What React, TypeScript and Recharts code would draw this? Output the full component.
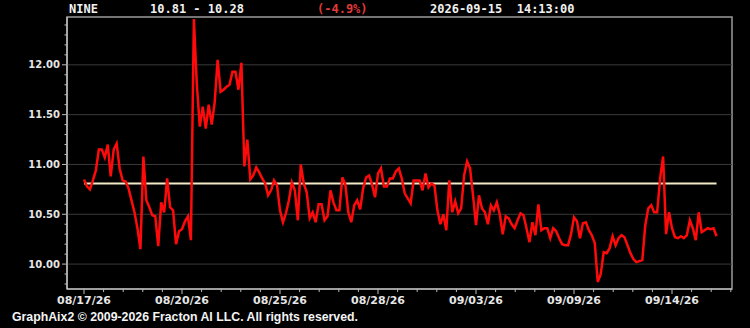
import { LineChart, Line, XAxis, YAxis, ReferenceLine, ReferenceArea } from 'recharts'

const symbol = 'NINE'
const rangeLabel = '10.81 - 10.28'
const changeLabel = '(-4.9%)'
const stamp = '2026-09-15  14:13:00'
const footer = 'GraphAix2 © 2009-2026 Fracton AI LLC. All rights reserved.'

const startPrice = 10.81

// one sample every ~3 px of the reference trace
const prices = [
  10.85, 10.78, 10.75, 10.84, 10.94, 11.15, 11.15, 11.07, 11.2, 10.88,
  11.15, 11.21, 10.96, 10.84, 10.83, 10.76, 10.64, 10.52, 10.36, 10.15,
  11.08, 10.64, 10.57, 10.49, 10.48, 10.18, 10.62, 10.52, 10.86, 10.57,
  10.54, 10.2, 10.33, 10.35, 10.43, 10.48, 10.24, 12.46, 11.8, 11.38,
  11.58, 11.36, 11.6, 11.4, 11.62, 12.05, 11.73, 11.75, 11.78, 11.8,
  11.93, 11.93, 11.75, 12.02, 10.98, 11.25, 10.85, 10.89, 10.97, 10.92,
  10.86, 10.81, 10.69, 10.74, 10.84, 10.79, 10.54, 10.42, 10.51, 10.64,
  10.82, 10.74, 10.44, 11.0, 10.81, 10.72, 10.46, 10.52, 10.42, 10.6,
  10.6, 10.44, 10.48, 10.74, 10.62, 10.54, 10.54, 10.87, 10.8, 10.52,
  10.42, 10.59, 10.64, 10.55, 10.76, 10.87, 10.89, 10.8, 10.67, 10.91,
  10.96, 10.78, 10.78, 10.86, 10.86, 10.93, 10.96, 10.86, 10.71, 10.66,
  10.61, 10.84, 10.84, 10.84, 10.74, 10.91, 10.77, 10.81, 10.79, 10.54,
  10.4, 10.5, 10.34, 10.84, 10.52, 10.63, 10.51, 10.56, 10.89, 11.03,
  10.96, 10.69, 10.39, 10.69, 10.56, 10.52, 10.4, 10.59, 10.54, 10.62,
  10.5, 10.3, 10.48, 10.46, 10.4, 10.36, 10.44, 10.51, 10.49, 10.36,
  10.22, 10.42, 10.29, 10.6, 10.34, 10.36, 10.36, 10.26, 10.36, 10.33,
  10.26, 10.2, 10.19, 10.19, 10.3, 10.47, 10.43, 10.26, 10.41, 10.42,
  10.34, 10.29, 10.21, 9.82, 9.9, 10.12, 10.11, 10.16, 10.28, 10.19,
  10.26, 10.29, 10.27, 10.19, 10.11, 10.05, 10.02, 10.03, 10.04, 10.39,
  10.56, 10.59, 10.52, 10.52, 10.86, 11.08, 10.3, 10.52, 10.36, 10.27,
  10.26, 10.28, 10.26, 10.29, 10.44, 10.36, 10.24, 10.52, 10.32, 10.34,
  10.36, 10.35, 10.36, 10.28,
]

const dateTickIdx = [0, 33, 66, 99, 132, 165, 198]
const dateTickLabels = ['08/17/26', '08/20/26', '08/25/26', '08/28/26', '09/03/26', '09/09/26', '09/14/26']
const priceGrid = [10, 10.5, 11, 11.5, 12]

const data = prices.map((price, i) => ({ i, price }))

const X_DOMAIN: [number, number] = [-5.72, 218.2]
const Y_DOMAIN: [number, number] = [9.75, 12.48]

// minor ticks: 5 per labelled interval on x, every 0.10 on y
const xTicks = Array.from({ length: 34 }, (_, k) => +(k * 6.6).toFixed(2))
const yTicks = Array.from({ length: 27 }, (_, k) => +(9.8 + k * 0.1).toFixed(1))

const axisFont = '"DejaVu Sans", sans-serif'

function DateTick({ x, y, payload }: any) {
  const k = dateTickIdx.indexOf(payload.value)
  const major = k >= 0
  return (
    <g>
      <line x1={x} x2={x} y1={y} y2={y + (major ? 5 : 3)} stroke="#bbb" />
      {major && (
        <text x={x} y={y + 15} textAnchor="middle" fill="#e6e6e6" fontSize={11} fontWeight="bold" fontFamily={axisFont}>
          {dateTickLabels[k]}
        </text>
      )}
    </g>
  )
}

function PriceTick({ x, y, payload }: any) {
  const major = Math.round(payload.value * 10) % 5 === 0
  return (
    <g>
      <line x1={x - (major ? 5 : 2.5)} x2={x} y1={y} y2={y} stroke="#bbb" />
      {major && (
        <text x={x - 7} y={y + 3.5} textAnchor="end" fill="#e6e6e6" fontSize={10} fontWeight="bold" fontFamily={axisFont}>
          {payload.value.toFixed(2)}
        </text>
      )}
    </g>
  )
}

const headStyle = {
  position: 'absolute' as const,
  top: 2,
  fontFamily: '"DejaVu Sans Mono", monospace',
  fontWeight: 'bold' as const,
  fontSize: 12,
  lineHeight: '14px',
  whiteSpace: 'pre' as const,
  color: '#f0f0f0',
}

export default function App() {
  return (
    <div style={{ position: 'absolute', left: 0, top: 0, width: 750, height: 328, background: '#000', overflow: 'hidden' }}>
      <LineChart width={750} height={328} data={data} margin={{ top: 17, right: 18, left: 0, bottom: 0 }}>
        <XAxis
          dataKey="i"
          type="number"
          domain={X_DOMAIN}
          allowDataOverflow
          ticks={xTicks}
          interval={0}
          tick={<DateTick />}
          tickLine={false}
          tickSize={0}
          tickMargin={0}
          height={39}
          axisLine={{ stroke: '#c8c8c8' }}
        />
        <YAxis
          type="number"
          domain={Y_DOMAIN}
          allowDataOverflow
          ticks={yTicks}
          interval={0}
          tick={<PriceTick />}
          tickLine={false}
          tickSize={0}
          tickMargin={0}
          width={67}
          axisLine={{ stroke: '#d8d8d8' }}
        />
        <ReferenceArea
          x1={X_DOMAIN[0]}
          x2={X_DOMAIN[1]}
          y1={Y_DOMAIN[0]}
          y2={Y_DOMAIN[1]}
          fill="none"
          stroke="#9a9a9a"
          strokeWidth={1.5}
        />
        {priceGrid.map(v => (
          <ReferenceLine key={v} y={v} stroke="#3a3a3a" strokeWidth={1} />
        ))}
        <ReferenceLine
          segment={[{ x: 0, y: startPrice }, { x: prices.length - 1, y: startPrice }]}
          stroke="#f2e9c6"
          strokeWidth={2}
        />
        <Line
          type="linear"
          dataKey="price"
          stroke="#ff0a0a"
          strokeWidth={2.5}
          dot={false}
          activeDot={false}
          isAnimationActive={false}
        />
      </LineChart>

      <div style={{ ...headStyle, left: 69 }}>{symbol}</div>
      <div style={{ ...headStyle, left: 150 }}>{rangeLabel}</div>
      <div style={{ ...headStyle, left: 317, color: '#e03a3a' }}>{changeLabel}</div>
      <div style={{ ...headStyle, left: 430 }}>{stamp}</div>

      <svg width={400} height={22} style={{ position: 'absolute', left: 0, top: 306 }}>
        <text
          x={12}
          y={15}
          fill="#f4f4f4"
          fontSize={13}
          fontWeight="bold"
          fontFamily='"Liberation Sans", Arial, sans-serif'
          textLength={346}
          lengthAdjust="spacingAndGlyphs"
        >
          {footer}
        </text>
      </svg>
    </div>
  )
}
